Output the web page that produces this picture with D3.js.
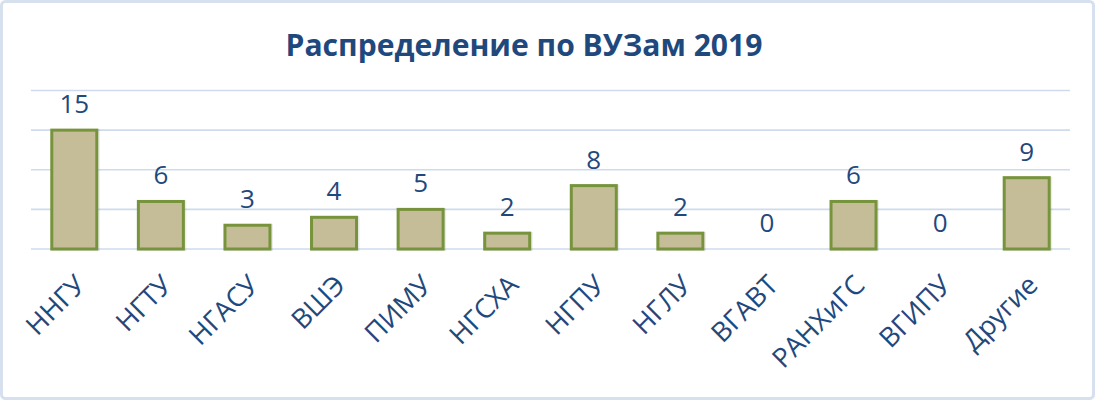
<!DOCTYPE html>
<html><head><meta charset="utf-8">
<script src="https://cdn.jsdelivr.net/npm/d3@7"></script>
<style>
html,body{margin:0;padding:0;background:#fff;}
svg{display:block;}
</style></head>
<body>
<script>
const categories = ["ННГУ","НГТУ","НГАСУ","ВШЭ","ПИМУ","НГСХА","НГПУ","НГЛУ","ВГАВТ","РАНХиГС","ВГИПУ","Другие"];
const values = [15,6,3,4,5,2,8,2,0,6,0,9];
const yTicks = [0,5,10,15,20];
const title = "Распределение по ВУЗам 2019";

const W = 1095, H = 400;
const textColor = "#1F497D";
const svg = d3.select("body").append("svg").attr("width", W).attr("height", H);

svg.append("rect").attr("x",1.5).attr("y",1.5).attr("width",W-3).attr("height",H-3)
  .attr("rx",4).attr("fill","#fff").attr("stroke","#D6E0EE").attr("stroke-width",3);

const x = d3.scaleBand().domain(categories).range([31,1070]).paddingInner(0.48).paddingOuter(0.24);
const y = d3.scaleLinear().domain([0,20]).range([249,90.5]);

const fam = "'Open Sans', 'DejaVu Sans', sans-serif";

// title
const t = svg.append("text").attr("x", 524).attr("y", 56).attr("text-anchor","middle")
  .attr("font-family", fam).attr("font-weight", "bold").attr("font-size", 30)
  .attr("fill", textColor).text(title);
const tw = t.node().getComputedTextLength();
t.attr("font-size", 30*477/tw);

// gridlines
svg.append("g").selectAll("line").data(yTicks).join("line")
  .attr("x1",31).attr("x2",1070).attr("y1",d=>y(d)).attr("y2",d=>y(d))
  .attr("stroke","#CFDBEC").attr("stroke-width",1.6);

// bars
const data = categories.map((c,i)=>({c, v: values[i]}));
const bars = svg.append("g");
bars.selectAll("rect.shadow").data(data.filter(d=>d.v>0)).join("rect")
  .attr("x", d=>x(d.c)+1).attr("y", d=>y(d.v)+1).attr("width", x.bandwidth()).attr("height", d=>y(0)-y(d.v)-1)
  .attr("fill","none").attr("stroke","rgba(0,0,0,0.08)").attr("stroke-width",4);
bars.selectAll("rect.bar").data(data.filter(d=>d.v>0)).join("rect")
  .attr("x", d=>x(d.c)).attr("y", d=>y(d.v)).attr("width", x.bandwidth()).attr("height", d=>y(0)-y(d.v))
  .attr("fill","#C4BD97").attr("stroke","#77933C").attr("stroke-width",3);

// value labels
svg.append("g").selectAll("text").data(data).join("text")
  .attr("x", d=>x(d.c)+x.bandwidth()/2).attr("y", d=>y(d.v)-17)
  .attr("text-anchor","middle").attr("font-family", fam).attr("font-size", 26)
  .attr("fill", textColor).text(d=>d.v);

// category labels
svg.append("g").selectAll("text").data(categories).join("text")
  .attr("transform", d=>`translate(${x(d)+x.bandwidth()/2-1},${273}) rotate(-45)`)
  .attr("text-anchor","end").attr("dy","0.72em").attr("font-family", fam).attr("font-size", 27)
  .attr("fill", textColor).text(d=>d);
</script>
</body></html>
